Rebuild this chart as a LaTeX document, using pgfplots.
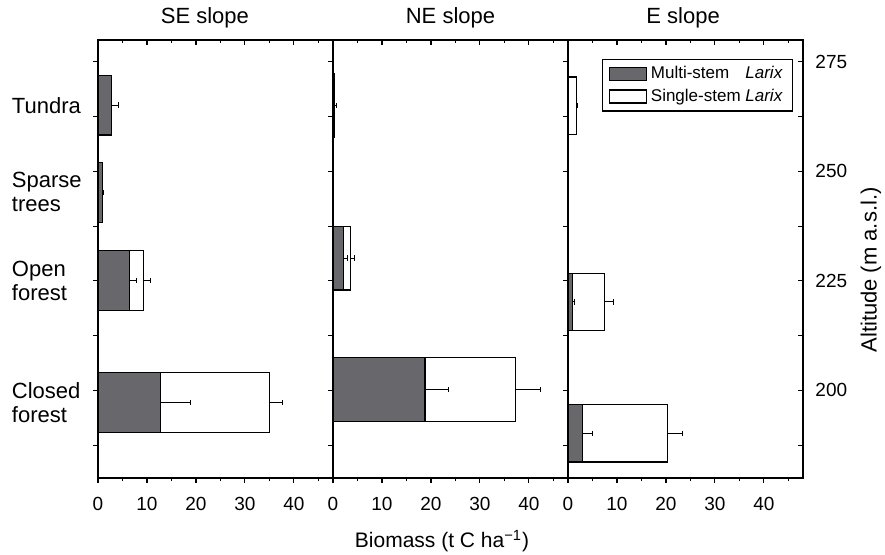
\documentclass[border=0pt]{standalone}
\usepackage{fontspec}
\setmainfont{Liberation Sans}
\usepackage{calc}
\usepackage{pgfplots}
\pgfplotsset{compat=1.18}
\definecolor{multi}{RGB}{104,104,108}

\pgfplotsset{
  panel/.style={
    scale only axis, width=117.5pt, height=219pt,
    xmin=0, xmax=48, ymin=180, ymax=280,
    xtick={0,10,20,30,40}, minor xtick={5,15,25,35,45},
    ytick={187.5,200,212.5,225,237.5,250,262.5,275}, yticklabels={},
    major tick length=2.5pt, minor tick length=1.7pt,
    axis line style={line width=0.6pt},
    every tick/.style={black, line width=0.6pt},
    /pgf/number format/assume math mode=true,
    tick label style={font=\fontsize{9.5}{11}\selectfont},
    xticklabel style={yshift=-3.5pt},
    title style={font=\fontsize{11}{13}\selectfont, anchor=base, at={(0.5,1)}, yshift=2pt},
  },
  overlay/.style={panel, tick align=inside, xtick pos=upper, ytick pos=right, xticklabels={}},
  errs/.style={error bars/.cd, x dir=plus, x explicit,
    error bar style={line width=0.5pt, black},
    error mark options={rotate=90, black, line width=0.5pt, mark size=1.4pt}},
  single/.style={xbar, bar shift=0pt, fill=white, draw=black, line width=0.6pt,
    legend image code/.code={\draw[##1] (0pt,-3.25pt) rectangle (18.5pt,3.25pt);}, errs},
  multistem/.style={xbar, bar shift=0pt, fill=multi, draw=black, line width=0.6pt,
    legend image code/.code={\draw[##1] (0pt,-3.25pt) rectangle (18.5pt,3.25pt);}, errs},
}

\begin{document}
\begin{tikzpicture}
\useasboundingbox (0,0) rectangle (442.5pt,-277.5pt);

% SE slope
\begin{axis}[panel, at={(49pt,-239pt)}, anchor=south west,
  tick align=outside, xtick pos=lower, ytick pos=left,
  title={SE slope}, title style={at={(0.455,1)}}, bar width=13.6,
  extra y ticks={265.1,245.2,225.1,197.2},
  extra y tick labels={Tundra, {Sparse\\trees}, {Open\\forest}, {Closed\\forest}},
  extra y tick style={major tick length=0pt,
    yticklabel style={text width=39.5pt, align=left, font=\fontsize{11}{12}\selectfont}}]
\addplot[single] coordinates {(9.25,225.1) +- (1.5,0) (35.0,197.2) +- (2.7,0)};
\addplot[multistem] coordinates {(2.8,265.1) +- (1.3,0) (0.9,245.2) +- (0.3,0)
  (6.4,225.1) +- (1.4,0) (12.7,197.2) +- (6.1,0)};
\end{axis}
\begin{axis}[overlay, at={(49pt,-239pt)}, anchor=south west]
\end{axis}

% NE slope
\begin{axis}[panel, at={(166.5pt,-239pt)}, anchor=south west,
  tick align=outside, xtick pos=lower, ytick pos=left,
  title={NE slope}, bar width=14.6,
  xlabel={Biomass (t C ha\textsuperscript{−1})},
  xlabel style={font=\fontsize{10.5}{12}\selectfont, at={(axis description cs:0.464,0)}, anchor=base, yshift=-35pt}]
\addplot[single] coordinates {(3.5,230.2) +- (0.85,0) (37.3,200.2) +- (5.1,0)};
\addplot[multistem] coordinates {(0.25,265) +- (0.4,0) (2.2,230.2) +- (0.8,0)
  (18.8,200.2) +- (4.8,0)};
\end{axis}
\begin{axis}[overlay, at={(166.5pt,-239pt)}, anchor=south west]
\end{axis}

% E slope
\begin{axis}[panel, at={(284pt,-239pt)}, anchor=south west,
  tick align=outside, xtick pos=lower, ytick pos=left,
  title={E slope}, title style={at={(0.49,1)}}, bar width=13.1,
  reverse legend,
  legend style={at={(0.959,0.957)}, anchor=north east, draw=black, line width=0.6pt,
    font=\fontsize{8.5}{10}\selectfont, inner xsep=3pt, inner ysep=1.5pt, row sep=-0.5pt},
  legend cell align=left]
\addplot[single] coordinates {(1.75,265) +- (0.25,0) (7.5,220.2) +- (1.8,0)
  (20.3,190.2) +- (3.0,0)};
\addlegendentry{Single-stem \textit{Larix}}
\addplot[multistem] coordinates {(0.9,220.2) +- (0.45,0) (3.0,190.2) +- (2.0,0)};
\addlegendentry{\makebox[\widthof{Single-stem \textit{Larix}}][s]{Multi-stem \textit{Larix}}}
\end{axis}
\begin{axis}[overlay, at={(284pt,-239pt)}, anchor=south west,
  yticklabels={,200,,225,,250,,275}, yticklabel pos=right,
  yticklabel style={xshift=2.7pt},
  ylabel={Altitude (m a.s.l.)},
  ylabel style={font=\fontsize{11}{13}\selectfont, at={(axis description cs:1.289,0.475)}, anchor=center}]
\end{axis}
\end{tikzpicture}
\end{document}
